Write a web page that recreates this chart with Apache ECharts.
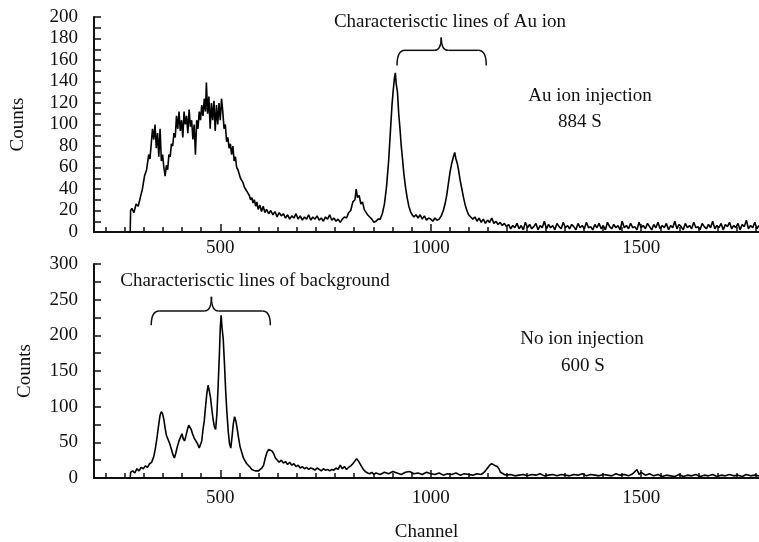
<!DOCTYPE html>
<html>
<head>
<meta charset="utf-8">
<script src="https://cdn.jsdelivr.net/npm/echarts@6/dist/echarts.min.js"></script>
<style>
html,body{margin:0;padding:0;background:#fff;}
#chart{width:759px;height:542px;}
</style>
</head>
<body>
<div id="chart"></div>
<script>
// ---- Data ----
const channelLabels = [500, 1000, 1500];
const topYLabels = [0, 20, 40, 60, 80, 100, 120, 140, 160, 180, 200];
const bottomYLabels = [0, 50, 100, 150, 200, 250, 300];

// Au ion injection, 884 S : [channel, counts]
const auIonSpectrum = [
[280,0],[286,0],[287,20],[290,22],[295,18],[300,26],[305,24],[310,32],[315,40],[320,52],[325,58],[330,72],[333,68],[336,82],[339,96],[342,86],[345,100],[348,78],[351,92],[354,70],[357,96],[360,66],[363,72],[366,60],[369,52],[372,62],[375,58],[378,72],[381,70],[384,82],[387,80],[390,92],[393,88],[396,108],[399,96],[402,112],[405,94],[408,104],[411,88],[414,112],[417,100],[420,108],[423,92],[426,114],[429,98],[432,104],[435,86],[438,100],[441,72],[444,104],[447,96],[450,112],[453,104],[456,118],[459,108],[462,124],[465,112],[467,139],[470,110],[473,126],[476,96],[479,120],[482,104],[485,122],[488,94],[491,118],[494,100],[497,120],[500,104],[503,124],[506,112],[509,96],[512,100],[515,84],[518,88],[521,78],[524,82],[527,72],[530,80],[533,66],[536,70],[539,60],[542,58],[545,54],[548,50],[551,48],[554,46],[557,42],[560,40],[563,38],[566,36],[569,34],[572,30],[575,32],[578,27],[581,30],[584,24],[587,28],[590,21],[594,25],[598,19],[602,24],[606,18],[610,21],[615,17],[620,20],[625,16],[630,19],[635,14],[640,18],[645,15],[650,17],[655,13],[660,16],[665,12],[670,15],[675,13],[680,17],[685,12],[690,15],[695,11],[700,14],[705,12],[710,16],[715,11],[720,14],[725,12],[730,15],[735,11],[740,13],[745,10],[750,14],[755,12],[760,16],[765,11],[770,13],[775,10],[780,12],[785,9],[790,12],[795,14],[800,13],[805,18],[810,20],[815,28],[820,30],[823,40],[826,32],[830,34],[834,26],[838,28],[842,21],[846,20],[850,16],[855,14],[860,12],[865,9],[870,10],[875,12],[880,12],[885,17],[890,26],[895,42],[900,66],[904,92],[908,118],[911,132],[914,144],[916,148],[918,138],[921,130],[924,110],[927,96],[930,80],[933,68],[936,55],[940,42],[944,32],[948,24],[952,19],[956,16],[960,14],[965,16],[970,13],[975,16],[980,12],[985,15],[990,11],[995,13],[1000,12],[1005,10],[1010,13],[1015,11],[1020,12],[1025,15],[1030,20],[1034,26],[1038,34],[1042,45],[1046,56],[1050,64],[1054,70],[1057,74],[1060,68],[1063,64],[1066,58],[1070,48],[1074,40],[1078,32],[1082,25],[1086,20],[1090,16],[1095,14],[1100,12],[1105,14],[1110,10],[1115,13],[1120,9],[1125,12],[1130,8],[1135,11],[1140,9],[1145,13],[1150,8],[1155,10],[1160,7],[1165,9],[1170,6],[1175,8],[1180,5],[1185,7],[1190,3],[1195,6],[1200,4],
[1205,8],[1210,3],[1215,6],[1220,2],[1225,9],[1230,4],[1235,7],[1240,3],[1245,5],[1250,8],[1255,2],[1260,6],[1265,4],[1270,10],[1275,3],[1280,7],[1285,4],[1290,6],[1295,2],[1300,8],[1305,5],[1310,3],[1315,9],[1320,4],[1325,6],[1330,3],[1335,7],[1340,5],[1345,2],[1350,8],[1355,4],[1360,6],[1365,3],[1370,9],[1375,4],[1380,5],[1385,2],[1390,7],[1395,4],[1400,8],[1405,3],[1410,6],[1415,2],[1420,9],[1425,5],[1430,3],[1435,7],[1440,4],[1445,6],[1450,2],[1455,10],[1460,4],[1465,6],[1470,3],[1475,8],[1480,4],[1485,5],[1490,2],[1495,9],[1500,4],[1505,6],[1510,3],[1515,8],[1520,5],[1525,2],[1530,7],[1535,4],[1540,9],[1545,3],[1550,6],[1555,4],[1560,8],[1565,2],[1570,6],[1575,4],[1580,10],[1585,3],[1590,7],[1595,5],[1600,2],[1605,8],[1610,4],[1615,6],[1620,3],[1625,9],[1630,4],[1635,5],[1640,2],[1645,8],[1650,5],[1655,3],[1660,7],[1665,4],[1670,10],[1675,3],[1680,6],[1685,4],[1690,8],[1695,2],[1700,7],[1705,5],[1710,9],[1715,3],[1720,6],[1725,4],[1730,8],[1735,2],[1740,7],[1745,5],[1750,11],[1755,3],[1760,6],[1765,4],[1770,9],[1775,3],[1780,6]
];

// No ion injection, 600 S : [channel, counts]
const noIonSpectrum = [
[280,0],[286,0],[287,8],[292,10],[297,7],[302,13],[307,10],[312,15],[317,13],[322,17],[327,15],[332,20],[337,22],[342,30],[346,42],[350,58],[354,76],[357,88],[360,93],[363,90],[366,82],[369,70],[372,60],[376,54],[380,48],[384,40],[388,32],[391,28],[394,34],[398,44],[402,52],[406,58],[409,62],[412,55],[415,52],[418,58],[422,68],[425,74],[428,76],[431,68],[434,62],[438,56],[442,52],[446,48],[450,42],[453,40],[456,52],[459,68],[462,80],[465,100],[468,118],[471,130],[474,122],[477,112],[480,96],[483,82],[486,72],[489,68],[492,90],[495,130],[498,175],[500,210],[502,228],[504,212],[507,195],[510,160],[513,120],[516,90],[519,65],[522,48],[525,42],[528,58],[531,76],[534,86],[537,80],[540,70],[543,58],[547,44],[551,36],[555,28],[559,24],[563,20],[567,18],[571,15],[575,12],[579,12],[583,10],[587,8],[591,10],[595,9],[599,14],[603,18],[607,28],[611,36],[615,40],[619,42],[623,38],[627,34],[631,28],[635,26],[640,22],[645,25],[650,21],[655,23],[660,19],[665,22],[670,18],[675,20],[680,16],[685,18],[690,14],[695,16],[700,13],[705,15],[710,12],[715,14],[720,13],[725,11],[730,14],[735,12],[740,10],[745,13],[750,11],[755,12],[760,10],[765,12],[770,11],[775,14],[780,12],[785,18],[790,13],[795,16],[800,12],[805,15],[810,17],[815,20],[820,24],[824,27],[828,24],[832,22],[836,16],[840,12],[845,9],[850,7],[855,6],[860,8],[865,5],[870,7],[875,6],[880,5],[890,8],[900,6],[910,9],[920,7],[930,5],[940,8],[950,9],[960,6],[970,7],[980,5],[990,8],[1000,6],[1010,5],[1020,7],[1030,4],[1040,6],[1050,5],[1060,7],[1070,4],[1080,6],[1090,5],[1100,4],[1110,6],[1120,5],[1125,7],[1130,10],[1135,14],[1140,18],[1145,20],[1148,22],[1151,18],[1154,20],[1158,16],[1162,13],[1166,8],[1170,6],[1175,5],[1180,4],[1190,5],[1200,3],[1210,4],[1220,5],[1230,3],[1240,5],[1250,4],[1260,6],[1270,3],[1280,4],[1290,5],[1300,3],[1310,5],[1320,4],[1330,3],[1340,5],[1350,4],[1360,6],[1370,3],[1380,5],[1390,4],[1400,3],[1410,5],[1420,4],[1430,3],[1440,6],[1450,4],[1460,5],[1470,3],[1480,6],[1490,12],[1495,5],[1500,8],[1510,4],[1520,6],[1530,3],[1540,5],[1550,2],[1560,4],[1570,3],[1580,2],[1590,5],[1600,2],[1610,4],[1620,3],[1630,5],[1640,2],[1650,4],[1660,3],[1670,5],[1680,2],[1690,4],[1700,3],[1710,5],[1720,3],[1730,4],[1740,2],[1750,5],[1760,3],[1770,4],[1780,3]
];

// ---- Chart ----
const X_MIN = 200, X_MAX = 1780;
const minorStep = (channelLabels[1] - channelLabels[0]) / 11;
const minorTicks = [];
for (let v = channelLabels[0] - minorStep * 10; v <= X_MAX; v += minorStep) {
  if (v >= X_MIN && !channelLabels.some(m => Math.abs(m - v) < 1e-6)) minorTicks.push(v);
}

const FONT = "'Liberation Serif', 'DejaVu Serif', serif";
const BLACK = '#111';
const FS = 19;

function xAxes(gridIndex, labelMargin, withName) {
  return [{
    type: 'value', gridIndex, position: 'bottom', min: X_MIN, max: X_MAX,
    name: withName ? 'Channel' : '', nameLocation: 'middle', nameGap: 45, nameMoveOverlap: false,
    nameTextStyle: {fontFamily: FONT, fontSize: FS, color: BLACK},
    axisLine: {show: true, lineStyle: {color: BLACK, width: 2}},
    axisTick: {show: true, inside: true, length: 5, customValues: minorTicks, lineStyle: {color: BLACK, width: 1.5}},
    axisLabel: {show: true, customValues: channelLabels, margin: labelMargin, fontFamily: FONT, fontSize: FS, color: BLACK,
                formatter: v => String(v)},
    splitLine: {show: false}
  }, {
    type: 'value', gridIndex, position: 'bottom', offset: 0, min: X_MIN, max: X_MAX,
    axisLine: {show: false},
    axisTick: {show: true, inside: true, length: 8, customValues: channelLabels, lineStyle: {color: BLACK, width: 1.5}},
    axisLabel: {show: false},
    splitLine: {show: false}
  }];
}

function yAxis(gridIndex, max, interval, nameGap) {
  return {
    type: 'value', gridIndex, position: 'left', min: 0, max, interval,
    name: 'Counts', nameLocation: 'middle', nameRotate: 90, nameGap, nameMoveOverlap: false,
    nameTextStyle: {fontFamily: FONT, fontSize: FS, color: BLACK},
    axisLine: {show: true, lineStyle: {color: BLACK, width: 2}},
    axisTick: {show: true, inside: true, length: 7, lineStyle: {color: BLACK, width: 1.5}},
    minorTick: {show: true, splitNumber: 2, length: 7, lineStyle: {color: BLACK, width: 1.5}},
    axisLabel: {margin: 16, fontFamily: FONT, fontSize: FS, color: BLACK},
    splitLine: {show: false}, minorSplitLine: {show: false}
  };
}

const chart = echarts.init(document.getElementById('chart'), null, {renderer: 'canvas'});
chart.setOption({
  animation: false,
  backgroundColor: '#fff',
  grid: [
    {left: 94, top: 17, width: 665, height: 215, containLabel: false, outerBoundsMode: 'none'},
    {left: 94, top: 264, width: 665, height: 214, containLabel: false, outerBoundsMode: 'none'}
  ],
  xAxis: [...xAxes(0, 7, false), ...xAxes(1, 11, true)],
  yAxis: [yAxis(0, 200, 20, 66), yAxis(1, 300, 50, 59)],
  series: [
    {type: 'line', name: 'Au ion injection', xAxisIndex: 0, yAxisIndex: 0, data: auIonSpectrum,
     symbol: 'none', lineStyle: {color: '#000', width: 1.6}, clip: true},
    {type: 'line', name: 'No ion injection', xAxisIndex: 2, yAxisIndex: 1, data: noIonSpectrum,
     symbol: 'none', lineStyle: {color: '#000', width: 1.6}, clip: true}
  ]
});

// Braces placed through the axes' own scales
function brace(gridIdx, xL, xR, xTip, vEnd, vLine, vTip) {
  const q = gridIdx === 0 ? {xAxisIndex: 0, yAxisIndex: 0} : {xAxisIndex: 2, yAxisIndex: 1};
  const [x1, yb] = chart.convertToPixel(q, [xL, vEnd]);
  const [x2] = chart.convertToPixel(q, [xR, vEnd]);
  const [xm, yt] = chart.convertToPixel(q, [xTip, vLine]);
  const [, ytip] = chart.convertToPixel(q, [xTip, vTip]);
  const r = 8, rt = 7;
  const st = {fill: 'none', stroke: BLACK, lineWidth: 1.5};
  return {
    type: 'group',
    children: [
      {type: 'bezierCurve', shape: {x1: x1, y1: yb, cpx1: x1, cpy1: yt, x2: x1 + r, y2: yt}, style: st},
      {type: 'line', shape: {x1: x1 + r, y1: yt, x2: xm - rt, y2: yt}, style: st},
      {type: 'bezierCurve', shape: {x1: xm - rt, y1: yt, cpx1: xm, cpy1: yt, x2: xm, y2: ytip}, style: st},
      {type: 'bezierCurve', shape: {x1: xm, y1: ytip, cpx1: xm, cpy1: yt, x2: xm + rt, y2: yt}, style: st},
      {type: 'line', shape: {x1: xm + rt, y1: yt, x2: x2 - r, y2: yt}, style: st},
      {type: 'bezierCurve', shape: {x1: x2 - r, y1: yt, cpx1: x2, cpy1: yt, x2: x2, y2: yb}, style: st}
    ]
  };
}

const label = (text, x, y) => ({
  type: 'text', x, y,
  style: {text, font: FS + "px " + FONT, fill: BLACK, align: 'center', verticalAlign: 'middle'}
});

chart.setOption({
  graphic: [
    brace(0, 920, 1132, 1025, 155, 169, 181),
    brace(1, 336, 619, 479, 214, 234, 254),
    label('Characterisctic lines of Au ion', 450, 22),
    label('Au ion injection', 590, 96),
    label('884 S', 580, 122),
    label('Characterisctic lines of background', 255, 281),
    label('No ion injection', 582, 339),
    label('600 S', 583, 366)
  ]
});
</script>
</body>
</html>
